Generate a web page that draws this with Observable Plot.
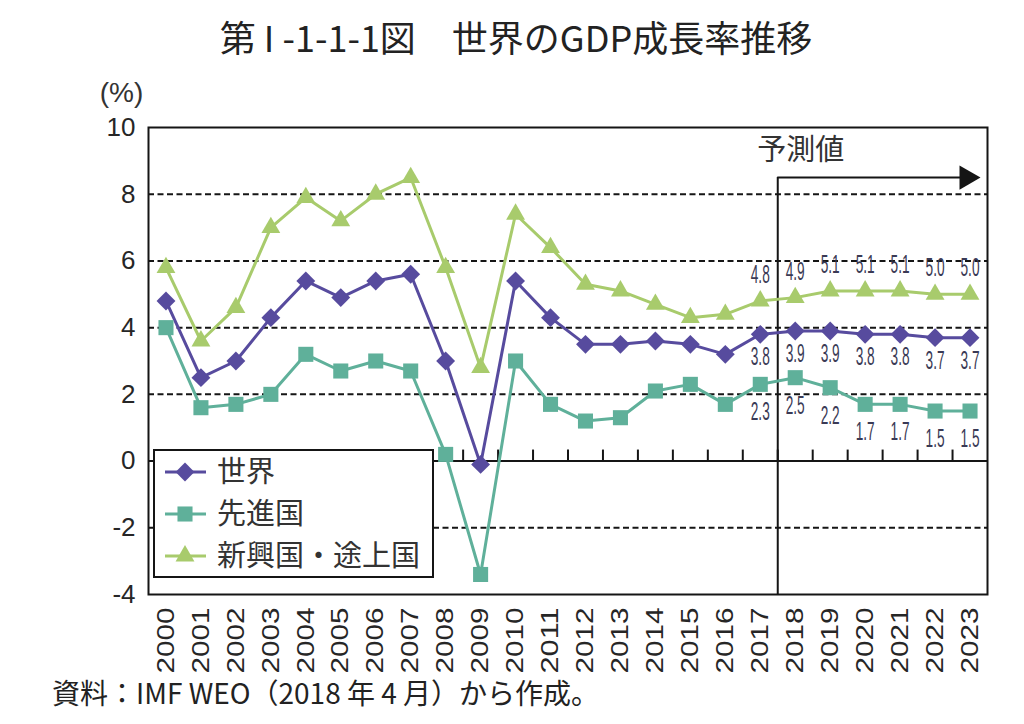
<!DOCTYPE html>
<html><head><meta charset="utf-8">
<script src="https://cdn.jsdelivr.net/npm/d3@7"></script>
<script src="https://cdn.jsdelivr.net/npm/@observablehq/plot@0.6"></script>
<style>
body{margin:0;background:#fff;font-family:"Liberation Sans","Noto Sans CJK JP",sans-serif;}
#wrap{position:relative;width:1024px;height:724px;overflow:hidden;}
#chart{position:absolute;left:0;top:0;}
#title{position:absolute;left:0;width:1032px;top:15px;text-align:center;font-size:36px;color:#222;font-family:"Noto Sans CJK JP","Liberation Sans",sans-serif;line-height:1.2;white-space:pre;}
#caption{position:absolute;left:52px;top:676px;font-size:28px;color:#222;font-family:"Noto Sans CJK JP","Liberation Sans",sans-serif;line-height:1.2;white-space:pre;}
#legend{position:absolute;left:153px;top:449px;}
</style></head><body>
<div id="wrap">
  <div id="chart"></div>
  <div id="title">第 I -1-1-1図　世界のGDP成長率推移</div>
  <div id="caption">資料：IMF WEO（2018 年 4 月）から作成。</div>
  <svg id="legend" width="281" height="130"></svg>
</div>
<script>
// ---- data ----
const years = [2000,2001,2002,2003,2004,2005,2006,2007,2008,2009,2010,2011,2012,2013,2014,2015,2016,2017,2018,2019,2020,2021,2022,2023];
const world =    [4.8,2.5,3.0,4.3,5.4,4.9,5.4,5.6,3.0,-0.1,5.4,4.3,3.5,3.5,3.6,3.5,3.2,3.8,3.9,3.9,3.8,3.8,3.7,3.7];
const advanced = [4.0,1.6,1.7,2.0,3.2,2.7,3.0,2.7,0.2,-3.4,3.0,1.7,1.2,1.3,2.1,2.3,1.7,2.3,2.5,2.2,1.7,1.7,1.5,1.5];
const emerging = [5.8,3.6,4.6,7.0,7.9,7.2,8.0,8.5,5.8,2.8,7.4,6.4,5.3,5.1,4.7,4.3,4.4,4.8,4.9,5.1,5.1,5.1,5.0,5.0];
const seriesNames = ["世界", "先進国", "新興国・途上国"];
const seriesColors = ["#574b9e", "#5fb09a", "#a8cb6c"];
const seriesSymbols = ["diamond2", "square", "triangle"];
const yTicks = [-4,-2,0,2,4,6,8,10];
const gridLevels = [-2,2,4,6,8];
const labelFrom = 2017;          // values labelled from this year on
const forecastFrom = 2017.5;     // start of forecast period
const arrowLevel = 8.5;          // height of forecast arrow
const arrowEnd = 2022.9;
const forecastText = "予測値";
const forecastTextAt = {x: 2018.16, y: 9.3};
const yUnit = "(%)";

// ---- build table ----
const seriesValues = [world, advanced, emerging];
const rows = [];
seriesValues.forEach((vals, i) => vals.forEach((v, j) => rows.push({series: seriesNames[i], year: years[j], value: v})));
const tickEdges = years.slice(0, -1).map(y => y + 0.5);
const ink = "#151515";
const labelColor = "#3a3a55";
const dotR = [8.5, 8.5, 7];

const lineMarks = seriesNames.map((s, i) => [
  Plot.line(rows.filter(d => d.series === s), {x: "year", y: "value", stroke: seriesColors[i], strokeWidth: 3}),
  Plot.dot(rows.filter(d => d.series === s), {x: "year", y: "value", fill: seriesColors[i], symbol: seriesSymbols[i], r: dotR[i]})
]).flat();

const labelOffsets = [23, 28, -26];
const labelMarks = seriesNames.map((s, i) =>
  Plot.text(rows.filter(d => d.series === s && d.year >= labelFrom), {
    x: "year", y: "value", text: d => d.value.toFixed(1), dy: labelOffsets[i],
    fill: labelColor, fontSize: 25, fontFamily: "Liberation Sans Narrow, Liberation Sans, sans-serif", className: "vlabel"
  })
);

const chart = Plot.plot({
  width: 1024, height: 724,
  marginLeft: 148, marginRight: 37, marginTop: 127, marginBottom: 130,
  x: {domain: [1999.5, 2023.5], axis: null},
  y: {domain: [-4, 10], axis: null},
  style: {fontFamily: "Liberation Sans, Noto Sans CJK JP, sans-serif", color: "#262626", background: "transparent"},
  marks: [
    Plot.ruleY(gridLevels, {stroke: ink, strokeWidth: 2, strokeDasharray: "6,3.5"}),
    Plot.ruleY([0], {stroke: ink, strokeWidth: 2}),
    Plot.ruleX(tickEdges, {y1: 0, y2: 0.33, stroke: ink, strokeWidth: 2}),
    Plot.ruleX([forecastFrom], {y1: -4, y2: arrowLevel, stroke: ink, strokeWidth: 2}),
    Plot.ruleY([arrowLevel], {x1: forecastFrom, x2: arrowEnd, stroke: ink, strokeWidth: 2}),
    Plot.dot([arrowLevel], {x: arrowEnd, y: d => d, symbol: "triangle", rotate: 90, r: 9, fill: ink}),
    Plot.text([forecastText], {x: forecastTextAt.x, y: forecastTextAt.y, text: d => d, fontSize: 29, fill: "#333", fontFamily: "Noto Sans CJK JP"}),
    ...lineMarks,
    ...labelMarks,
    Plot.frame({stroke: ink, strokeWidth: 2}),
    Plot.text([yUnit], {frameAnchor: "top-left", text: d => d, textAnchor: "middle", dx: -27, dy: -45, fontSize: 28, fill: "#333"}),
    Plot.axisY({ticks: yTicks, tickSize: 0, tickPadding: 13, fontSize: 26, label: null, tickFormat: d => String(d)}),
    Plot.axisX({ticks: years, tickSize: 0, tickPadding: 13, tickRotate: -90, fontSize: 24, label: null, className: "xax", tickFormat: d => String(d)})
  ]
});
document.getElementById("chart").appendChild(chart);

// fit glyphs to the reference's condensed / elongated lettering
function fitLength(sel, len) {
  chart.querySelectorAll(sel).forEach(t => {
    t.setAttribute("textLength", len);
    t.setAttribute("lengthAdjust", "spacingAndGlyphs");
  });
}
fitLength(".vlabel text", 19);
fitLength(".xax text", 66);

// ---- legend ----
const lg = d3.select("#legend");
lg.append("rect").attr("x", 1).attr("y", 1).attr("width", 279).attr("height", 127).attr("fill", "#fff").attr("stroke", ink).attr("stroke-width", 2);
const legendSymbols = [d3.symbolDiamond2, d3.symbolSquare, d3.symbolTriangle];
seriesNames.forEach((s, i) => {
  const y = 23 + i * 42;
  const g = lg.append("g").attr("transform", `translate(0,${y})`);
  g.append("line").attr("x1", 12).attr("x2", 53).attr("y1", 0).attr("y2", 0).attr("stroke", seriesColors[i]).attr("stroke-width", 3);
  g.append("path").attr("d", d3.symbol(legendSymbols[i], Math.PI * dotR[i] * dotR[i])()).attr("transform", "translate(32,0)").attr("fill", seriesColors[i]);
  g.append("text").attr("x", 64).attr("y", 0).attr("dy", "0.36em").attr("font-size", 29).attr("fill", "#333")
    .attr("font-family", "Noto Sans CJK JP").text(s);
});
</script>
</body></html>
